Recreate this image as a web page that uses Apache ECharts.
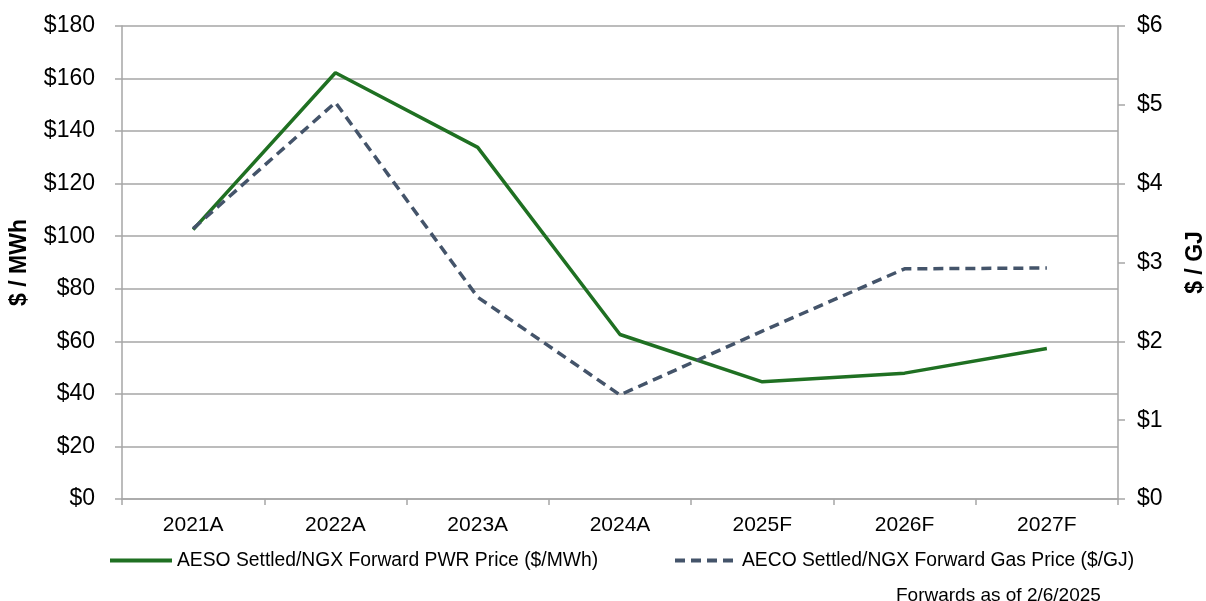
<!DOCTYPE html>
<html>
<head>
<meta charset="utf-8">
<script src="https://cdn.jsdelivr.net/npm/echarts@6/dist/echarts.min.js"></script>
<style>
  html, body { margin: 0; padding: 0; background: #fff; }
  #chart { width: 1206px; height: 601px; }
</style>
</head>
<body>
<div id="chart"></div>
<script>
const years = ['2021A', '2022A', '2023A', '2024A', '2025F', '2026F', '2027F'];
const powerPrice = [102.5, 162.2, 133.8, 62.6, 44.6, 47.9, 57.3];   // $/MWh
const gasPrice = [3.43, 5.03, 2.56, 1.32, 2.13, 2.92, 2.93];         // $/GJ
const powerName = 'AESO Settled/NGX Forward PWR Price ($/MWh)';
const gasName = 'AECO Settled/NGX Forward Gas Price ($/GJ)';

const font = 'Liberation Sans';
const axisGrey = '#A6A6A6';
const green = '#1F7022';
const slate = '#44546A';

const chart = echarts.init(document.getElementById('chart'));
chart.setOption({
    animation: false,
    textStyle: {fontFamily: font},
    grid: {left: 122, right: 88, top: 26, bottom: 102, outerBoundsMode: 'none'},
    title: {
        text: 'Forwards as of 2/6/2025',
        left: 891, top: 581,
        textStyle: {fontFamily: font, fontSize: 19, fontWeight: 'normal', color: '#000'}
    },
    legend: [
        {
            data: [powerName], left: 103, top: 546,
            itemWidth: 62, itemHeight: 14, itemGap: 5,
            itemStyle: {opacity: 0},
            lineStyle: {width: 4},
            textStyle: {fontFamily: font, fontSize: 19.3, color: '#000'}
        },
        {
            data: [gasName], left: 668, top: 546,
            itemWidth: 62, itemHeight: 14, itemGap: 5,
            itemStyle: {opacity: 0},
            lineStyle: {width: 4},
            textStyle: {fontFamily: font, fontSize: 19.3, color: '#000'}
        }
    ],
    xAxis: {
        type: 'category',
        data: years,
        boundaryGap: true,
        axisLine: {lineStyle: {color: axisGrey, width: 1.5}},
        axisTick: {show: true, length: 6, lineStyle: {color: axisGrey, width: 1.5}},
        axisLabel: {color: '#000', fontSize: 21, margin: 16}
    },
    yAxis: [
        {
            type: 'value', min: 0, max: 180, interval: 20,
            name: '$ / MWh', nameLocation: 'middle', nameGap: 91, nameRotate: 90,
            nameTextStyle: {fontFamily: font, fontSize: 23, fontWeight: 'bold', color: '#000'},
            axisLine: {show: true, lineStyle: {color: axisGrey, width: 1.5}},
            axisTick: {show: true, length: 7, lineStyle: {color: axisGrey, width: 1.5}},
            axisLabel: {color: '#000', fontSize: 23, margin: 27, formatter: v => '$' + v},
            splitLine: {lineStyle: {color: axisGrey, width: 1.5}}
        },
        {
            type: 'value', min: 0, max: 6, interval: 1, position: 'right',
            name: '$ / GJ', nameLocation: 'middle', nameGap: 66, nameRotate: 90,
            nameTextStyle: {fontFamily: font, fontSize: 23, fontWeight: 'bold', color: '#000'},
            axisLine: {show: true, lineStyle: {color: axisGrey, width: 1.5}},
            axisTick: {show: true, length: 7, lineStyle: {color: axisGrey, width: 1.5}},
            axisLabel: {color: '#000', fontSize: 23, margin: 19, formatter: v => '$' + v},
            splitLine: {show: false}
        }
    ],
    series: [
        {
            name: powerName, type: 'line', yAxisIndex: 0, data: powerPrice,
            symbol: 'none',
            lineStyle: {color: green, width: 3.5},
            itemStyle: {color: green}
        },
        {
            name: gasName, type: 'line', yAxisIndex: 1, data: gasPrice,
            symbol: 'none',
            lineStyle: {color: slate, width: 3.5, type: [10, 6]},
            itemStyle: {color: slate}
        }
    ]
});
</script>
</body>
</html>
